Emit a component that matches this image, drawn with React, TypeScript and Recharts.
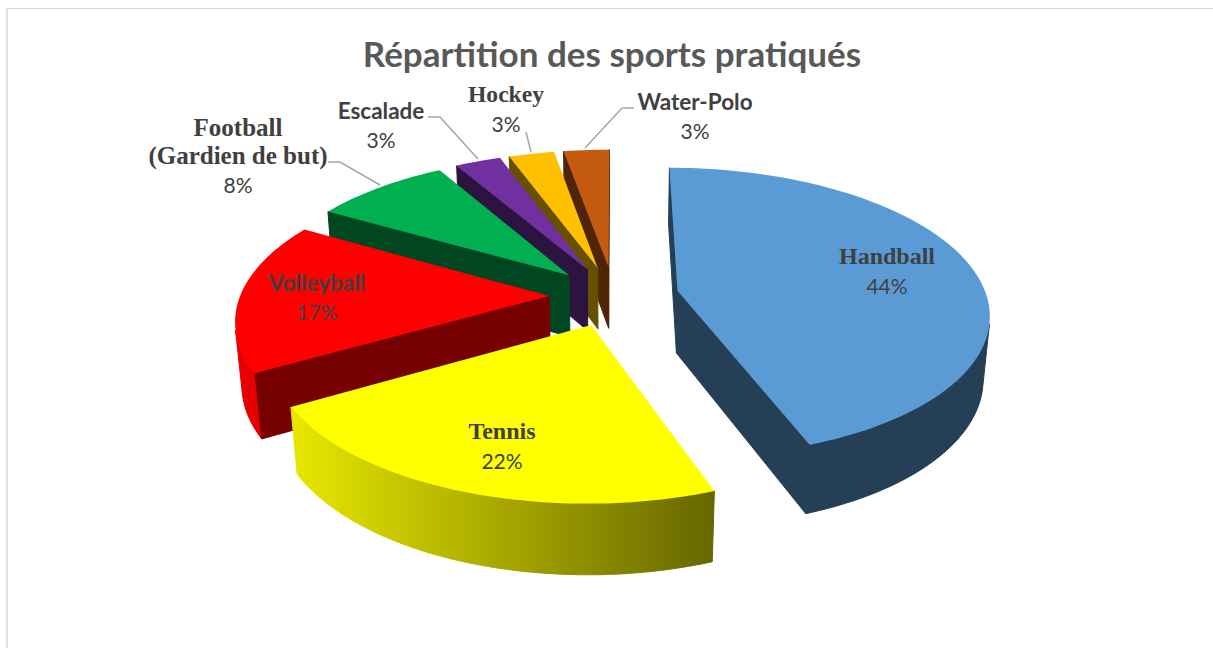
import { PieChart, Pie } from 'recharts';

// drawn back to front, so the list runs counter-clockwise from the top
const categories = ['Water-Polo', 'Hockey', 'Escalade', 'Football (Gardien de but)', 'Volleyball', 'Tennis', 'Handball'];
const counts = [1, 1, 1, 3, 6, 8, 16];

const topColors = ['#c55a11', '#ffc000', '#7030a0', '#00b050', '#ff0000', '#ffff00', '#5b9bd5'];
const wallColors = ['#4f2407', '#665000', '#2d1340', '#004620', '#760000', 'url(#tennisWall)', '#243f56'];
const rimColors = ['#4f2407', '#665000', '#2d1340', '#004620', '#e60000', 'url(#tennisWall)', '#243f56'];

const labelLines = [['Water-Polo'], ['Hockey'], ['Escalade'], ['Football', '(Gardien de but)'], ['Volleyball'], ['Tennis'], ['Handball']];
const serifLabels = ['Hockey', 'Football (Gardien de but)', 'Tennis', 'Handball'];
const labelSizes = [22.5, 23.6, 22.5, 25, 22.5, 24, 24];
const labelSpots = [[695, 101], [506, 94], [381, 110], [238, 127], [317, 282], [502, 431], [887, 256]];
const leaders = [
  '585,148 622,108 634,108',
  '526,132 531,152',
  '428,117 440,117 478,159',
  '328,162 340,162 380,185',
  '',
  '',
  '',
];

const data = categories.map((name, i) => ({ name, value: counts[i], fill: topColors[i], wall: wallColors[i], rim: rimColors[i] }));

// fake 3D: the flat sector angles are pushed through a tilted camera
const RAD = Math.PI / 180;
const TILT = 27.5 * RAD;
const CAMERA = 6;
const EXPLODE = 0.21;
const THICKNESS = 0.232;

type Pt = [number, number];

function area(poly: Pt[]) {
  let sum = 0;
  poly.forEach((p, i) => {
    const q = poly[(i + 1) % poly.length];
    sum += p[0] * q[1] - q[0] * p[1];
  });
  return sum / 2;
}

const toPath = (poly: Pt[]) => 'M' + poly.map((p) => `${p[0].toFixed(2)},${p[1].toFixed(2)}`).join('L') + 'Z';

function Slice3D(props: any) {
  const { cx, cy, outerRadius: R, startAngle, endAngle, fill, payload } = props;
  const lo = Math.min(startAngle, endAngle);
  const hi = Math.max(startAngle, endAngle);
  const mid = ((lo + hi) / 2) * RAD;
  const ox = EXPLODE * Math.cos(mid);
  const oy = -EXPLODE * Math.sin(mid);

  const project = (X: number, Y: number, Z: number): Pt => {
    const v = Y * Math.sin(TILT) - Z * Math.cos(TILT);
    const w = Y * Math.cos(TILT) + Z * Math.sin(TILT);
    const s = CAMERA / (CAMERA - w);
    return [cx + X * R * s, cy + v * R * s];
  };
  const apex = (z: number) => project(ox, oy, z);
  const rim = (deg: number, z: number) => project(ox + Math.cos(deg * RAD), oy - Math.sin(deg * RAD), z);

  const steps = Math.max(2, Math.ceil((hi - lo) / 1.5));
  const angles = Array.from({ length: steps + 1 }, (_, i) => lo + ((hi - lo) * i) / steps);

  const flats: string[] = [];
  const radial = (a: (z: number) => Pt, b: (z: number) => Pt) => {
    const quad = [a(0), b(0), b(-THICKNESS), a(-THICKNESS)];
    if (area(quad) > 0) flats.push(toPath(quad));
  };
  radial(apex, (z) => rim(lo, z));
  radial((z) => rim(hi, z), apex);

  // neighbouring front-facing rim steps are merged so a gradient runs over the whole rim
  const rims: string[] = [];
  let run: number[] = [];
  const flush = () => {
    if (run.length > 1) {
      const top = run.map((a) => rim(a, 0));
      const bottom = run.map((a) => rim(a, -THICKNESS)).reverse();
      rims.push(toPath([...top, ...bottom]));
    }
    run = [];
  };
  for (let i = 0; i < steps; i++) {
    const a = angles[i];
    const b = angles[i + 1];
    const front = area([rim(a, 0), rim(b, 0), rim(b, -THICKNESS), rim(a, -THICKNESS)]) > 0;
    if (front) {
      if (!run.length) run.push(a);
      run.push(b);
    } else {
      flush();
    }
  }
  flush();

  return (
    <g>
      {rims.map((d, i) => (
        <path key={i} d={d} fill={payload.rim} stroke={payload.rim} strokeWidth={1} />
      ))}
      {flats.map((d, i) => (
        <path key={i} d={d} fill={payload.wall} stroke={payload.wall} strokeWidth={1} />
      ))}
      <path d={toPath([apex(0), ...angles.map((a) => rim(a, 0))])} fill={fill} />
    </g>
  );
}

function SliceLabel(props: any) {
  const { index, percent } = props;
  const [x, y] = labelSpots[index];
  const lines = labelLines[index];
  const serif = serifLabels.includes(categories[index]);
  return (
    <g>
      {leaders[index] && <polyline points={leaders[index]} fill="none" stroke="#a6a6a6" strokeWidth={1.5} />}
      {lines.map((line, i) => (
        <text
          key={line}
          x={x}
          y={y + i * 28}
          textAnchor="middle"
          dominantBaseline="central"
          fill="#404040"
          fontWeight="bold"
          fontFamily={serif ? '"Liberation Serif", serif' : 'Lato, sans-serif'}
          fontSize={labelSizes[index]}
        >
          {line}
        </text>
      ))}
      <text
        x={x}
        y={y + (lines.length - 1) * 28 + 29}
        textAnchor="middle"
        dominantBaseline="central"
        fill="#404040"
        fontFamily="Lato, sans-serif"
        fontSize={21}
      >
        {Math.round(percent * 100)}%
      </text>
    </g>
  );
}

export default function App() {
  return (
    <div style={{ position: 'absolute', left: 0, top: 0, width: 1213, height: 648, overflow: 'hidden', background: '#fff' }}>
      <div style={{ position: 'absolute', left: 6, top: 8, right: 0, bottom: 0, borderTop: '1px solid #d9d9d9', borderLeft: '2px solid #e0e0e0' }} />
      <PieChart width={1213} height={648} style={{ position: 'absolute', left: 0, top: 0 }}>
        <defs>
          <linearGradient id="tennisWall" x1="0" y1="0" x2="1" y2="0">
            <stop offset="0" stopColor="#e8e800" />
            <stop offset="1" stopColor="#666600" />
          </linearGradient>
        </defs>
        <text x={612} y={53} textAnchor="middle" dominantBaseline="central" fill="#595959" fontFamily="Lato, sans-serif" fontWeight="bold" fontSize={35}>
          Répartition des sports pratiqués
        </text>
        <Pie
          data={data}
          dataKey="value"
          nameKey="name"
          cx={609}
          cy={291}
          innerRadius={0}
          outerRadius={309}
          startAngle={90}
          endAngle={450}
          paddingAngle={0}
          stroke="none"
          shape={Slice3D}
          label={SliceLabel}
          labelLine={false}
          isAnimationActive={false}
        />
      </PieChart>
    </div>
  );
}
